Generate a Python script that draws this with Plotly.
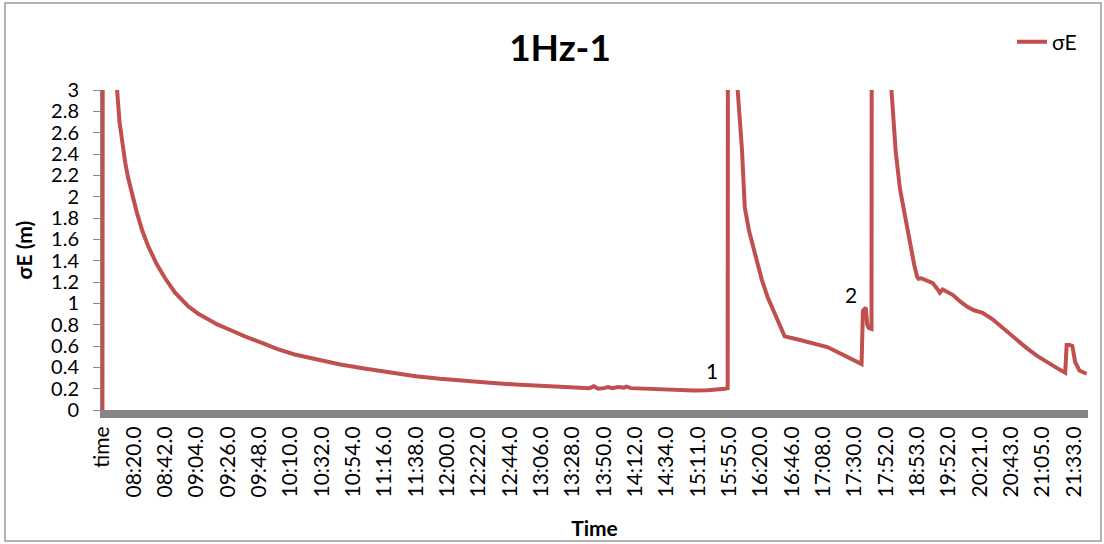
import plotly.graph_objects as go

# Sample number along the category axis and the East standard deviation (m)
sample = [
    0, 1, 5, 10, 12, 14, 16, 18, 21, 24, 28, 32, 38, 44, 51, 60, 67, 74,
    81, 89, 100, 112, 123, 135,
    150, 167, 185, 202, 220, 237, 255, 272, 290, 307, 322, 338,
    342, 345, 348, 352, 355, 358, 362, 366, 368, 371, 380, 391, 405,
    415, 425, 432, 436, 437, 439,
    440, 443, 446, 449, 451, 454, 457, 460, 463, 467, 471, 475, 479,
    487, 495, 502, 509, 515, 521, 527, 533, 534, 536, 537, 538, 540,
    541, 545, 549, 554, 557, 560, 565, 568, 570, 572, 573, 575, 580,
    583, 587, 588, 590, 594, 597, 602, 607, 612, 618, 625, 632, 640,
    649, 656, 663, 670, 676, 677, 679, 681, 683, 686, 691,
]
sigma_e = [
    0.0, 15.0, 4.5, 3.05, 2.7, 2.47, 2.32, 2.18, 2.0, 1.86, 1.68, 1.54,
    1.37, 1.235, 1.10, 0.975, 0.905, 0.85,
    0.80, 0.755, 0.69, 0.63, 0.57, 0.52,
    0.473, 0.426, 0.386, 0.349, 0.317, 0.292, 0.27, 0.255, 0.239, 0.23,
    0.215, 0.208,
    0.205, 0.222, 0.20, 0.205, 0.215, 0.205, 0.215, 0.21, 0.22, 0.205,
    0.20, 0.192, 0.186,
    0.183, 0.185, 0.19, 0.19, 0.20, 0.205,
    20.0, 5.0, 3.0, 2.45, 1.9, 1.68, 1.53, 1.35, 1.22, 1.06, 0.93, 0.80,
    0.69,
    0.665, 0.64, 0.62, 0.59, 0.55, 0.51, 0.465, 0.43, 0.93, 0.96, 0.80,
    0.77, 0.76,
    20.0, 6.0, 4.0, 3.0, 2.42, 2.07, 1.69, 1.47, 1.36, 1.25, 1.23, 1.235,
    1.21,
    1.19, 1.12, 1.10, 1.13, 1.10, 1.08, 1.02, 0.97, 0.935, 0.91, 0.85,
    0.77, 0.69,
    0.58, 0.51, 0.45, 0.395, 0.35, 0.61, 0.61, 0.60, 0.45, 0.37, 0.34,
]

# Category labels shown every 22 samples
tick_labels = [
    "time", "08:20.0", "08:42.0", "09:04.0", "09:26.0", "09:48.0",
    "10:10.0", "10:32.0", "10:54.0", "11:16.0", "11:38.0", "12:00.0",
    "12:22.0", "12:44.0", "13:06.0", "13:28.0", "13:50.0", "14:12.0",
    "14:34.0", "15:11.0", "15:55.0", "16:20.0", "16:46.0", "17:08.0",
    "17:30.0", "17:52.0", "18:53.0", "19:52.0", "20:21.0", "20:43.0",
    "21:05.0", "21:33.0",
]
label_step = 22
tick_samples = [i * label_step for i in range(len(tick_labels))]

# Event markers
event_labels = ["1", "2"]
event_sample = [428, 525.5]
event_value = [0.37, 1.08]

FONT = "Lato"
RED = "#C0504D"
GREY = "#868686"

fig = go.Figure()
fig.add_trace(go.Scatter(
    x=sample, y=sigma_e, mode="lines", name="σE",
    line=dict(color=RED, width=4),
))

for txt, xs, yv in zip(event_labels, event_sample, event_value):
    fig.add_annotation(x=xs, y=yv, text=txt, showarrow=False,
                       font=dict(family=FONT, size=21, color="black"))

W, H = 1104, 544
L, R, T, B = 101, 16, 90, 134
pw, ph = W - L - R, H - T - B

def px_x(px):
    return (px - L) / pw

def px_y(py):
    return (H - B - py) / ph

# Outer chart frame
fig.add_shape(type="rect", xref="paper", yref="paper",
              x0=px_x(5), x1=px_x(1101), y0=px_y(541), y1=px_y(3),
              line=dict(color="#9a9a9a", width=1.5), layer="below")

fig.update_layout(
    width=W, height=H,
    margin=dict(l=L, r=R, t=T, b=B, pad=0, autoexpand=False),
    paper_bgcolor="white", plot_bgcolor="white",
    font=dict(family=FONT, size=21, color="black"),
    title=dict(text="1Hz-1", xref="container", yref="container",
               x=560 / W, y=1 - 48 / H, xanchor="center", yanchor="middle",
               font=dict(family=FONT, size=37, color="black", weight="bold")),
    showlegend=True,
    legend=dict(x=px_x(1012), y=px_y(42), xanchor="left", yanchor="middle",
                orientation="v", bgcolor="rgba(0,0,0,0)",
                font=dict(family=FONT, size=21, color="black")),
    xaxis=dict(
        range=[-1, 692], tickmode="array", tickvals=tick_samples,
        ticktext=tick_labels, tickangle=-90, showgrid=False, zeroline=False,
        showline=True, linecolor=GREY, linewidth=8, ticks="",
        automargin=False,
        tickfont=dict(family=FONT, size=21, color="black"),
        title=dict(text="Time", standoff=28,
                   font=dict(family=FONT, size=21, color="black",
                             weight="bold")),
    ),
    yaxis=dict(
        range=[0, 3], dtick=0.2, showgrid=False, zeroline=False,
        showline=True, linecolor=GREY, linewidth=1,
        ticks="outside", ticklen=7, tickcolor=GREY, tickwidth=1,
        ticklabelstandoff=10, automargin=False,
        tickfont=dict(family=FONT, size=20, color="black"),
        title=dict(text="σE (m)", standoff=12,
                   font=dict(family=FONT, size=21, color="black",
                             weight="bold")),
    ),
)

fig.write_html("out.html")
